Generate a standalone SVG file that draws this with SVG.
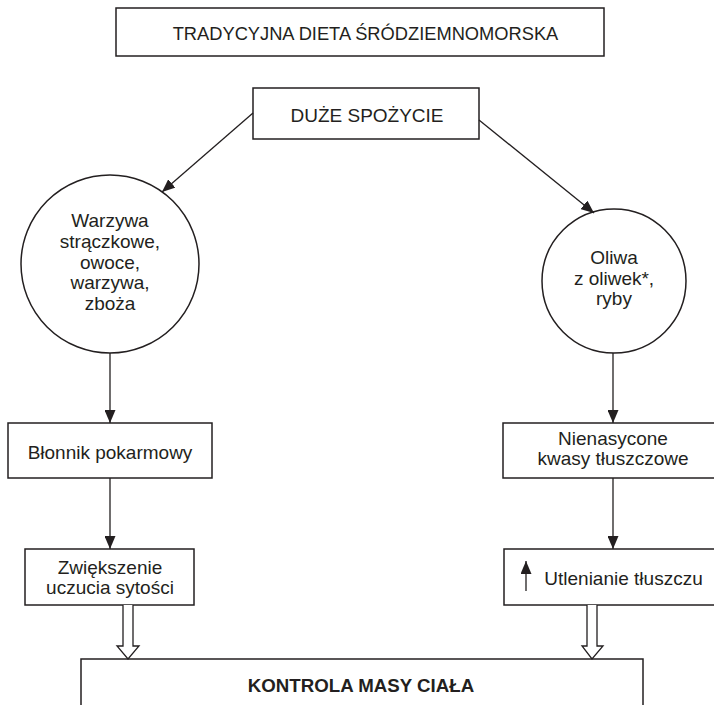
<svg xmlns="http://www.w3.org/2000/svg" width="714" height="705" viewBox="0 0 714 705">
<style>
.box{fill:#fff;stroke:#231f20;stroke-width:1.5}
.t{font-family:"Liberation Sans",Arial,sans-serif;font-size:19px;fill:#231f20;text-anchor:middle}
.b{font-weight:bold;font-size:18.7px}
.ln{fill:none;stroke:#231f20;stroke-width:1.3}
.hollow{fill:#fff;stroke:#231f20;stroke-width:1.3;stroke-linejoin:miter}
</style>
<defs>
<marker id="ah" viewBox="0 0 13 11" refX="13" refY="5.5" markerWidth="13" markerHeight="11" orient="auto" markerUnits="userSpaceOnUse">
<path d="M0,0 L13,5.5 L0,11 z" fill="#231f20"/>
</marker>
</defs>
<rect width="714" height="705" fill="#fff"/>
<g id="title">
<rect class="box" x="116" y="8" width="488" height="48"/>
<text class="t" x="365.5" y="39.5" style="font-size:18.3px">TRADYCYJNA DIETA ŚRÓDZIEMNOMORSKA</text>
</g>
<g id="duze">
<rect class="box" x="253" y="88" width="226" height="51"/>
<text class="t" x="367" y="121.5">DUŻE SPOŻYCIE</text>
</g>
<g id="warzywa">
<circle class="box" cx="110" cy="264" r="89"/>
<text class="t" x="110" y="227">Warzywa</text>
<text class="t" x="110" y="248">strączkowe,</text>
<text class="t" x="110" y="269">owoce,</text>
<text class="t" x="110" y="289">warzywa,</text>
<text class="t" x="110" y="310">zboża</text>
</g>
<g id="oliwa">
<circle class="box" cx="614" cy="281" r="72"/>
<text class="t" x="614" y="264">Oliwa</text>
<text class="t" x="614" y="285">z oliwek*,</text>
<text class="t" x="614" y="305">ryby</text>
</g>
<g id="blonnik">
<rect class="box" x="8" y="423" width="204" height="55"/>
<text class="t" x="110" y="458.5">Błonnik pokarmowy</text>
</g>
<g id="nienasycone">
<rect class="box" x="503" y="423" width="220" height="55"/>
<text class="t" x="613" y="445">Nienasycone</text>
<text class="t" x="613" y="465">kwasy tłuszczowe</text>
</g>
<g id="zwiekszenie">
<rect class="box" x="25" y="549" width="169" height="56"/>
<text class="t" x="110" y="574">Zwiększenie</text>
<text class="t" x="110" y="594">uczucia sytości</text>
</g>
<g id="utlenianie">
<rect class="box" x="504" y="549" width="220" height="56"/>
<line class="ln" x1="526" y1="591" x2="526" y2="561" marker-end="url(#ah)"/>
<text class="t" x="623.5" y="585">Utlenianie tłuszczu</text>
</g>
<g id="kontrola">
<rect class="box" x="81" y="659" width="562" height="60"/>
<text class="t b" x="361" y="692">KONTROLA MASY CIAŁA</text>
</g>
<g id="connectors">
<line class="ln" x1="253" y1="113" x2="162" y2="192" marker-end="url(#ah)"/>
<line class="ln" x1="479" y1="120" x2="594" y2="213" marker-end="url(#ah)"/>
<line class="ln" x1="110" y1="353" x2="110" y2="423" marker-end="url(#ah)"/>
<line class="ln" x1="110" y1="478" x2="110" y2="549" marker-end="url(#ah)"/>
<line class="ln" x1="613" y1="353" x2="613" y2="423" marker-end="url(#ah)"/>
<line class="ln" x1="613" y1="478" x2="613" y2="549" marker-end="url(#ah)"/>
<path class="hollow" d="M123,605 L123,646 L117,646 L128,659 L139,646 L133,646 L133,605"/>
<path class="hollow" d="M587,605 L587,646 L582,646 L592,659 L603,646 L597,646 L597,605"/>
</g>
</svg>
